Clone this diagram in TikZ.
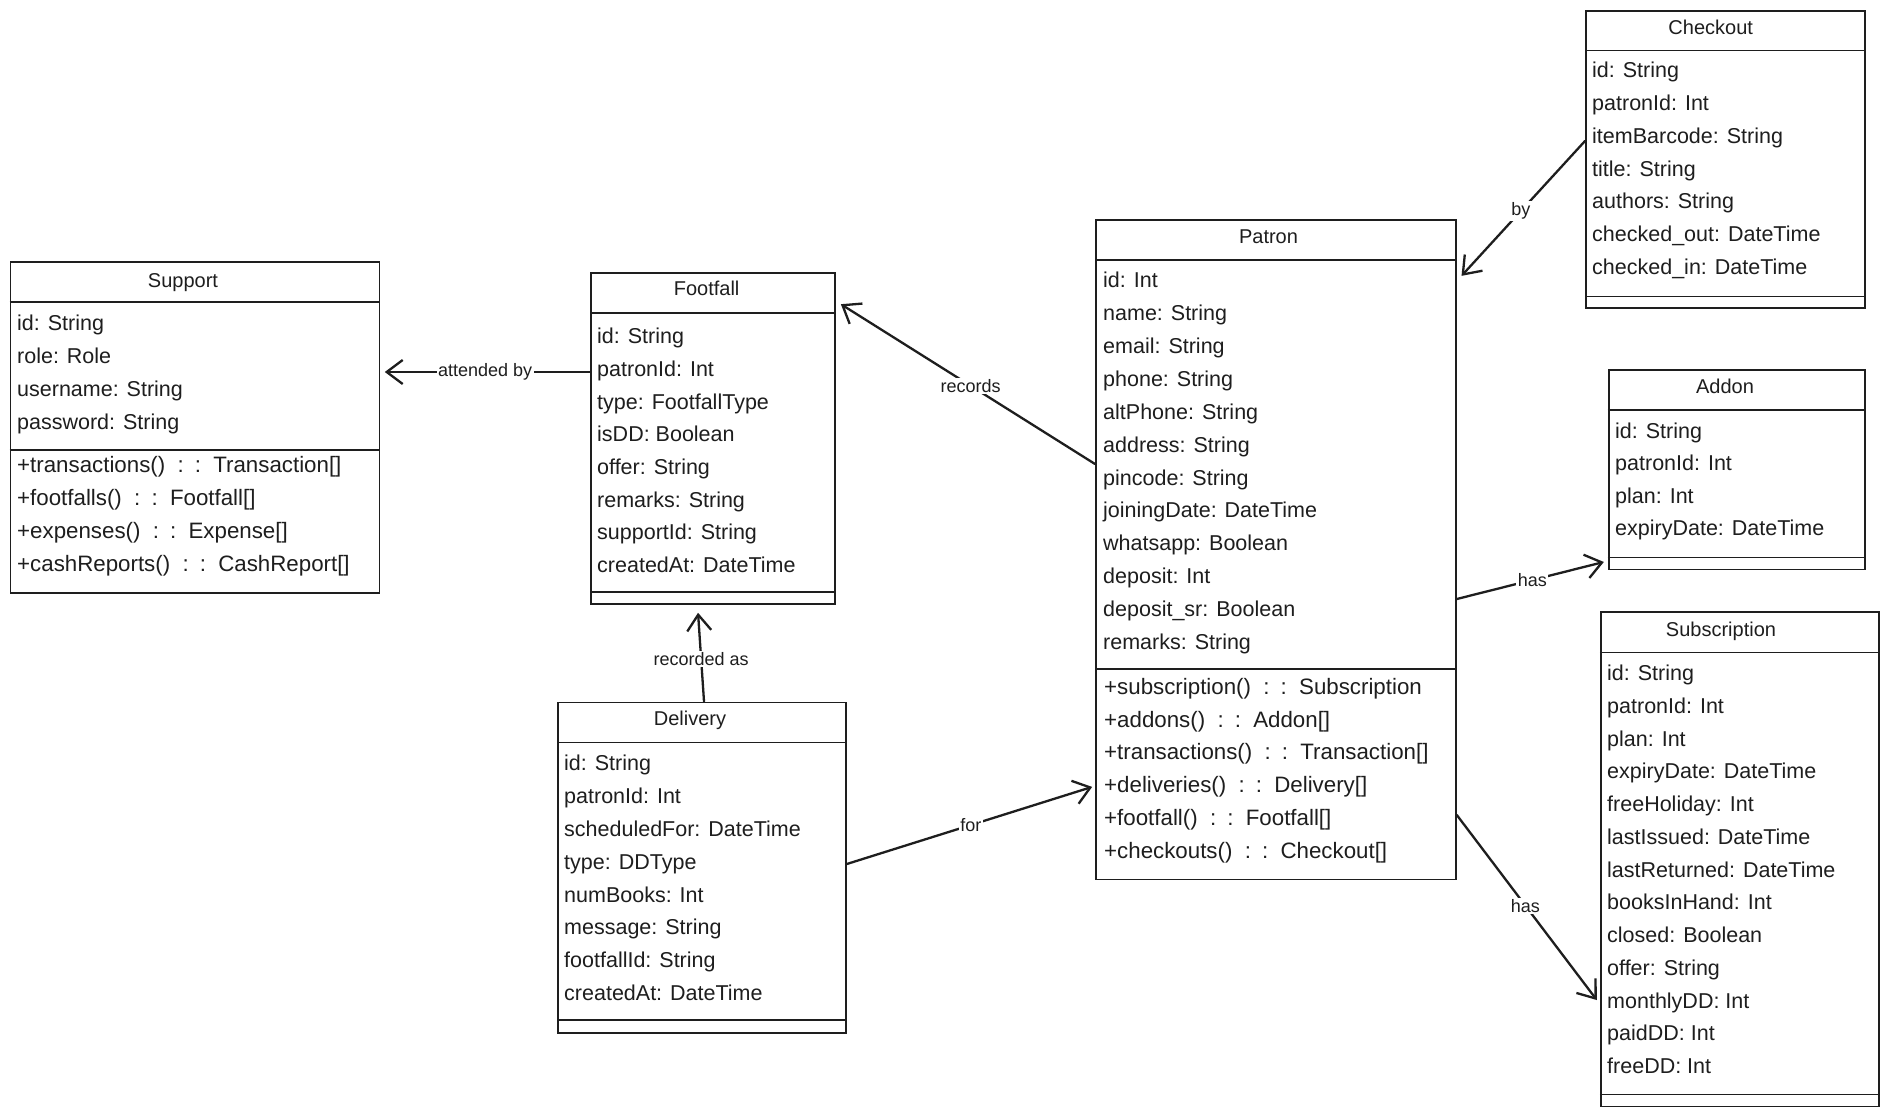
\documentclass[tikz,border=0pt]{standalone}
\usepackage{fontspec}
\setmainfont{Liberation Sans}
\usetikzlibrary{arrows.meta}
\definecolor{ink}{HTML}{1E1E1E}
\newcommand\dc{\hspace{0.55em}:\hspace{0.5em}:\hspace{0.55em}}
\begin{document}
\begin{tikzpicture}[x=1pt,y=-1pt,
  cls/.style={draw=ink, line width=1.8pt, fill=white, inner sep=0pt, anchor=north west},
  sepline/.style={draw=ink, line width=1.3pt},
  attr/.style={anchor=mid west, inner sep=0pt, yshift=-5pt, font=\fontsize{21.5}{24}\selectfont, text=ink},
  meth/.style={attr, font=\fontsize{22.3}{24}\selectfont},
  ttl/.style={anchor=mid, inner sep=0pt, yshift=-5pt, font=\fontsize{20}{24}\selectfont, text=ink},
  rel/.style={draw=ink, line width=2.3pt, line cap=round, -{Straight Barb[length=16pt,width=24pt]}},
  lbl/.style={fill=white, inner sep=1.5pt, font=\fontsize{18}{20}\selectfont, text=ink},
]
\fill[white] (0,0) rectangle (1889,1115);
\useasboundingbox (0,0) rectangle (1889,1115);

% ---------- Support ----------
\node[cls, minimum width=368.9pt, minimum height=330.5pt] (support) at (9.6,261.5) {};
\draw[sepline] (support.west |- 0,302) -- (support.east |- 0,302);
\draw[sepline] (support.west |- 0,450) -- (support.east |- 0,450);
\node[ttl] (supportT) at (183,280) {Support};
\foreach \s [count=\i from 0] in {id: String, role: Role, username: String, password: String}
  \node[attr] (supportA\i) at ({17},{323+\i*32.9}) {\s};
\foreach \s [count=\i from 0] in {+transactions()\dc Transaction[], +footfalls()\dc Footfall[], +expenses()\dc Expense[], +cashReports()\dc CashReport[]}
  \node[meth] (supportM\i) at ({17},{465+\i*32.9}) {\s};

% ---------- Footfall ----------
\node[cls, minimum width=244pt, minimum height=330.5pt] (footfall) at (590,272.5) {};
\draw[sepline] (footfall.west |- 0,313) -- (footfall.east |- 0,313);
\draw[sepline] (footfall.west |- 0,592) -- (footfall.east |- 0,592);
\node[ttl] (footfallT) at (706.6,288) {Footfall};
\foreach \s [count=\i from 0] in {id: String, patronId: Int, type: FootfallType, isDD: Boolean, offer: String, remarks: String, supportId: String, createdAt: DateTime}
  \node[attr] (footfallA\i) at ({597},{336+\i*32.7}) {\s};

% ---------- Delivery ----------
\node[cls, minimum width=288pt, minimum height=330.2pt] (delivery) at (557,701.5) {};
\draw[sepline] (delivery.west |- 0,742.7) -- (delivery.east |- 0,742.7);
\draw[sepline] (delivery.west |- 0,1020) -- (delivery.east |- 0,1020);
\node[ttl] (deliveryT) at (690,718) {Delivery};
\foreach \s [count=\i from 0] in {id: String, patronId: Int, scheduledFor: DateTime, type: DDType, numBooks: Int, message: String, footfallId: String, createdAt: DateTime}
  \node[attr] (deliveryA\i) at ({564},{763.3+\i*32.8}) {\s};

% ---------- Patron ----------
\node[cls, minimum width=360pt, minimum height=659pt] (patron) at (1095,219.5) {};
\draw[sepline] (patron.west |- 0,260) -- (patron.east |- 0,260);
\draw[sepline] (patron.west |- 0,669) -- (patron.east |- 0,669);
\node[ttl] (patronT) at (1268.5,236) {Patron};
\foreach \s [count=\i from 0] in {id: Int, name: String, email: String, phone: String, altPhone: String, address: String, pincode: String, joiningDate: DateTime, whatsapp: Boolean, deposit: Int, deposit\_sr: Boolean, remarks: String}
  \node[attr] (patronA\i) at ({1103},{280+\i*32.9}) {\s};
\foreach \s [count=\i from 0] in {+subscription()\dc Subscription, +addons()\dc Addon[], +transactions()\dc Transaction[], +deliveries()\dc Delivery[], +footfall()\dc Footfall[], +checkouts()\dc Checkout[]}
  \node[meth] (patronM\i) at ({1104},{686.7+\i*32.8}) {\s};

% ---------- Checkout ----------
\node[cls, minimum width=279.3pt, minimum height=297.4pt] (checkout) at (1585,10) {};
\draw[sepline] (checkout.west |- 0,50.7) -- (checkout.east |- 0,50.7);
\draw[sepline] (checkout.west |- 0,296.3) -- (checkout.east |- 0,296.3);
\node[ttl] (checkoutT) at (1710.7,27) {Checkout};
\foreach \s [count=\i from 0] in {id: String, patronId: Int, itemBarcode: String, title: String, authors: String, checked\_out: DateTime, checked\_in: DateTime}
  \node[attr] (checkoutA\i) at ({1592},{70+\i*32.8}) {\s};

% ---------- Addon ----------
\node[cls, minimum width=256.6pt, minimum height=199.2pt] (addon) at (1607.7,369.3) {};
\draw[sepline] (addon.west |- 0,410) -- (addon.east |- 0,410);
\draw[sepline] (addon.west |- 0,557.4) -- (addon.east |- 0,557.4);
\node[ttl] (addonT) at (1725,386) {Addon};
\foreach \s [count=\i from 0] in {id: String, patronId: Int, plan: Int, expiryDate: DateTime}
  \node[attr] (addonA\i) at ({1615},{430.5+\i*32.5}) {\s};

% ---------- Subscription ----------
\node[cls, minimum width=278.2pt, minimum height=494.2pt] (subscription) at (1599.8,611.4) {};
\draw[sepline] (subscription.west |- 0,652.4) -- (subscription.east |- 0,652.4);
\draw[sepline] (subscription.west |- 0,1094.3) -- (subscription.east |- 0,1094.3);
\node[ttl] (subscriptionT) at (1721,628.5) {Subscription};
\foreach \s [count=\i from 0] in {id: String, patronId: Int, plan: Int, expiryDate: DateTime, freeHoliday: Int, lastIssued: DateTime, lastReturned: DateTime, booksInHand: Int, closed: Boolean, offer: String, monthlyDD: Int, paidDD: Int, freeDD: Int}
  \node[attr] (subscriptionA\i) at ({1607},{673+\i*32.75}) {\s};

% ---------- Relations ----------
\draw[rel, shorten >=4.5pt] (footfall.west |- 0,372) -- node[lbl] (l1) {attended by} (support.east |- 0,372);
\draw[rel, shorten >=6pt] (patron.west |- 0,464) -- node[lbl, pos=0.48] (l2) {records} (footfall.east |- 0,301);
\draw[rel, shorten >=8pt] (delivery.north -| 704,0) -- node[lbl, pos=0.44] (l3) {recorded as} (footfall.south -| 697.5,0);
\draw[rel, shorten >=3pt] (delivery.east |- 0,864) -- node[lbl] (l4) {for} (patron.west |- 0,786);
\draw[rel, shorten >=7pt] (checkout.west |- 0,141) -- node[lbl] (l5) {by} (patron.east |- 0,281);
\draw[rel, shorten >=4pt] (patron.east |- 0,599) -- node[lbl] (l6) {has} (addon.west |- 0,561);
\draw[rel, shorten >=5pt] (patron.east |- 0,815) -- node[lbl, pos=0.48] (l7) {has} (subscription.west |- 0,1004);
\end{tikzpicture}
\end{document}
